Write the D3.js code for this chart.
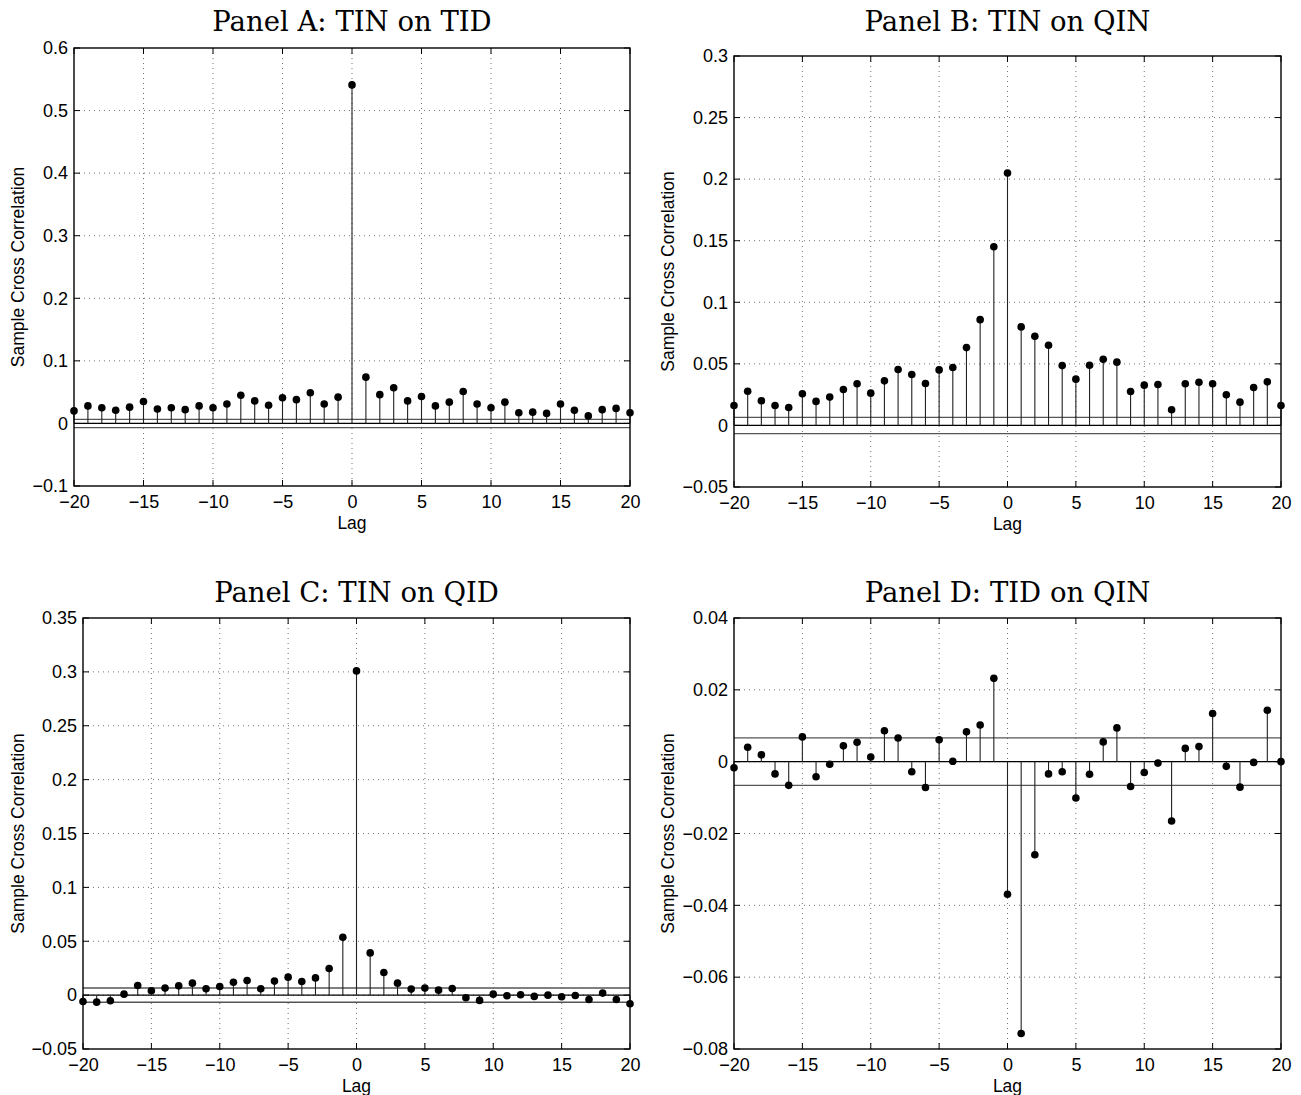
<!DOCTYPE html>
<html>
<head>
<meta charset="utf-8">
<script src="https://cdn.jsdelivr.net/npm/d3@7"></script>
<style>
  body { margin: 0; background: #fff; }
  svg { display: block; }
  .tick-label { font-family: "Liberation Sans", Arial, sans-serif; font-size: 18px; fill: #000; }
  .axis-title { font-family: "Liberation Sans", Arial, sans-serif; font-size: 17.5px; fill: #000; }
  .panel-title { font-family: "DejaVu Serif", "Liberation Serif", serif; font-size: 27.5px; fill: #000; }
</style>
</head>
<body>
<svg id="chart"></svg>
<script>
// лаги по оси X
const lags = [-20,-19,-18,-17,-16,-15,-14,-13,-12,-11,-10,-9,-8,-7,-6,-5,-4,-3,-2,-1,
              0,1,2,3,4,5,6,7,8,9,10,11,12,13,14,15,16,17,18,19,20];
const xTicks = [-20,-15,-10,-5,0,5,10,15,20];

// границы доверительного интервала
const bound = 0.0066;

// Panel A: TIN on TID
const valuesA = [0.020,0.028,0.025,0.021,0.026,0.035,0.023,0.025,0.022,0.028,
                 0.025,0.031,0.045,0.036,0.029,0.041,0.038,0.049,0.031,0.042,
                 0.541,
                 0.074,0.046,0.057,0.036,0.043,0.028,0.034,0.051,0.031,0.025,
                 0.034,0.017,0.018,0.016,0.031,0.021,0.012,0.022,0.024,0.017];
const yTicksA = [-0.1,0,0.1,0.2,0.3,0.4,0.5,0.6];

// Panel B: TIN on QIN
const valuesB = [0.0162,0.0278,0.0200,0.0162,0.0146,0.0257,0.0195,0.0230,0.0292,0.0338,
                 0.0262,0.0362,0.0454,0.0414,0.0340,0.0451,0.0470,0.0632,0.0859,0.1451,
                 0.2049,
                 0.0800,0.0724,0.0651,0.0486,0.0376,0.0489,0.0538,0.0514,0.0276,0.0327,
                 0.0332,0.0127,0.0338,0.0351,0.0338,0.0249,0.0189,0.0308,0.0354,0.0162];
const yTicksB = [-0.05,0,0.05,0.1,0.15,0.2,0.25,0.3];

// Panel C: TIN on QID
const valuesC = [-0.0059,-0.0065,-0.0052,0.0009,0.0090,0.0040,0.0065,0.0086,0.0111,0.0059,
                 0.0080,0.0120,0.0136,0.0059,0.0130,0.0167,0.0127,0.0160,0.0247,0.0537,
                 0.3009,
                 0.0392,0.0210,0.0111,0.0056,0.0065,0.0046,0.0062,-0.0025,-0.0049,0.0009,
                 -0.0006,0.0003,-0.0012,0.0000,-0.0015,-0.0003,-0.0040,0.0019,-0.0040,-0.0080];
const yTicksC = [-0.05,0,0.05,0.1,0.15,0.2,0.25,0.3,0.35];

// Panel D: TID on QIN
const valuesD = [-0.0017,0.0040,0.0019,-0.0034,-0.0066,0.0069,-0.0042,-0.0007,0.0044,0.0054,
                 0.0013,0.0086,0.0066,-0.0028,-0.0072,0.0061,0.0001,0.0083,0.0102,0.0232,
                 -0.0369,
                 -0.0757,-0.0259,-0.0034,-0.0028,-0.0101,-0.0035,0.0055,0.0094,-0.0069,-0.0030,
                 -0.0004,-0.0165,0.0037,0.0042,0.0134,-0.0013,-0.0071,-0.0002,0.0143,0.0000];
const yTicksD = [-0.08,-0.06,-0.04,-0.02,0,0.02,0.04];

const titles = ["Panel A: TIN on TID", "Panel B: TIN on QIN", "Panel C: TIN on QID", "Panel D: TID on QIN"];

const width = 1301, height = 1095;
const svg = d3.select("#chart").attr("width", width).attr("height", height);

// положение каждой панели на холсте
const panels = [
  { title: titles[0], values: valuesA, yTicks: yTicksA, x0: 74,  x1: 630,  y0: 48,  y1: 486,  ylabX: 18,  titleY: 31 },
  { title: titles[1], values: valuesB, yTicks: yTicksB, x0: 734, x1: 1281, y0: 56,  y1: 487,  ylabX: 668, titleY: 31 },
  { title: titles[2], values: valuesC, yTicks: yTicksC, x0: 83,  x1: 630,  y0: 618, y1: 1049, ylabX: 18,  titleY: 602 },
  { title: titles[3], values: valuesD, yTicks: yTicksD, x0: 734, x1: 1281, y0: 618, y1: 1049, ylabX: 668, titleY: 602 }
];

const fmt = d3.format("~g");
const tickLen = 6;

panels.forEach(function(p) {
  let scaleX = d3.scaleLinear().domain([-20, 20]).range([p.x0, p.x1]);
  let scaleY = d3.scaleLinear().domain(d3.extent(p.yTicks)).range([p.y1, p.y0]);

  let g = svg.append("g");

  // сетка (пунктир)
  g.selectAll(".vgrid")
    .data(xTicks.slice(1, -1))
    .enter()
    .append("line")
    .attr("x1", d => scaleX(d)).attr("x2", d => scaleX(d))
    .attr("y1", p.y0).attr("y2", p.y1)
    .attr("stroke", "#000").attr("stroke-width", 1)
    .attr("stroke-dasharray", "1,4").attr("opacity", 0.55);

  g.selectAll(".hgrid")
    .data(p.yTicks.slice(1, -1))
    .enter()
    .append("line")
    .attr("x1", p.x0).attr("x2", p.x1)
    .attr("y1", d => scaleY(d)).attr("y2", d => scaleY(d))
    .attr("stroke", "#000").attr("stroke-width", 1)
    .attr("stroke-dasharray", "1,4").attr("opacity", 0.55);

  // оси
  let axisBottom = d3.axisBottom(scaleX).tickValues(xTicks).tickFormat(fmt).tickSize(0).tickPadding(9);
  let axisLeft = d3.axisLeft(scaleY).tickValues(p.yTicks).tickFormat(fmt).tickSize(0).tickPadding(6);

  let ax = g.append("g").attr("transform", `translate(0, ${p.y1})`).call(axisBottom);
  ax.select(".domain").remove();
  ax.selectAll("text").attr("class", "tick-label").attr("fill", "#000");

  let ay = g.append("g").attr("transform", `translate(${p.x0}, 0)`).call(axisLeft);
  ay.select(".domain").remove();
  ay.selectAll("text").attr("class", "tick-label").attr("fill", "#000");

  // засечки внутри рамки со всех сторон
  g.selectAll(".xt")
    .data(xTicks)
    .enter()
    .append("path")
    .attr("d", d => `M${scaleX(d)},${p.y1}v${-tickLen}M${scaleX(d)},${p.y0}v${tickLen}`)
    .attr("stroke", "#000").attr("stroke-width", 1);

  g.selectAll(".yt")
    .data(p.yTicks)
    .enter()
    .append("path")
    .attr("d", d => `M${p.x0},${scaleY(d)}h${tickLen}M${p.x1},${scaleY(d)}h${-tickLen}`)
    .attr("stroke", "#000").attr("stroke-width", 1);

  // доверительные границы
  g.selectAll(".bound")
    .data([bound, -bound])
    .enter()
    .append("line")
    .attr("x1", p.x0).attr("x2", p.x1)
    .attr("y1", d => scaleY(d)).attr("y2", d => scaleY(d))
    .attr("stroke", "#555").attr("stroke-width", 1.3);

  // нулевая линия
  g.append("line")
    .attr("x1", p.x0).attr("x2", p.x1)
    .attr("y1", scaleY(0)).attr("y2", scaleY(0))
    .attr("stroke", "#000").attr("stroke-width", 1.3);

  // стебли
  g.selectAll(".stem")
    .data(lags)
    .enter()
    .append("line")
    .attr("x1", d => scaleX(d)).attr("x2", d => scaleX(d))
    .attr("y1", scaleY(0))
    .attr("y2", (d, i) => scaleY(p.values[i]))
    .attr("stroke", "#222").attr("stroke-width", 1.1);

  // точки
  g.selectAll(".dot")
    .data(lags)
    .enter()
    .append("circle")
    .attr("cx", d => scaleX(d))
    .attr("cy", (d, i) => scaleY(p.values[i]))
    .attr("r", 3.8)
    .attr("fill", "#000");

  // рамка
  g.append("rect")
    .attr("x", p.x0).attr("y", p.y0)
    .attr("width", p.x1 - p.x0).attr("height", p.y1 - p.y0)
    .attr("fill", "none").attr("stroke", "#000").attr("stroke-width", 1.4);

  // подписи
  g.append("text")
    .attr("class", "panel-title")
    .attr("x", (p.x0 + p.x1) / 2).attr("y", p.titleY)
    .attr("text-anchor", "middle")
    .text(p.title);

  g.append("text")
    .attr("class", "axis-title")
    .attr("x", (p.x0 + p.x1) / 2).attr("y", p.y1 + 43)
    .attr("text-anchor", "middle")
    .text("Lag");

  g.append("text")
    .attr("class", "axis-title")
    .attr("transform", `translate(${p.ylabX + 6}, ${(p.y0 + p.y1) / 2}) rotate(-90)`)
    .attr("text-anchor", "middle")
    .text("Sample Cross Correlation");
});
</script>
</body>
</html>
